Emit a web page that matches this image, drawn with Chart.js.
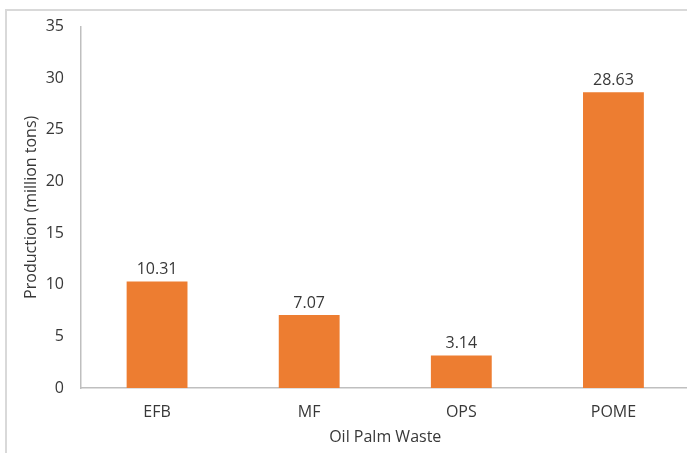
<!DOCTYPE html>
<html>
<head>
<meta charset="utf-8">
<script src="https://cdn.jsdelivr.net/npm/chart.js@4/dist/chart.umd.min.js"></script>
<style>
  html, body { margin: 0; padding: 0; background: #fff; overflow: hidden; }
  #wrap { position: relative; width: 687px; height: 453px; overflow: hidden; }
  #frame { position: absolute; left: 5px; top: 9px; width: 720px; height: 480px; border: 2px solid #d9d9d9; box-sizing: border-box; }
  #box { position: absolute; left: 0; top: 0; width: 700px; height: 453px; }
</style>
</head>
<body>
<div id="wrap">
  <div id="frame"></div>
  <div id="box"><canvas id="chart"></canvas></div>
</div>
<script>
// Data
const categories = ['EFB', 'MF', 'OPS', 'POME'];
const production = [10.31, 7.07, 3.14, 28.63];
const valueLabels = ['10.31', '7.07', '3.14', '28.63'];

const textColor = '#383838';
const axisColor = '#bfbfbf';
const fontFamily = '"Open Sans", "Noto Sans", sans-serif';

// draws the value above each bar
const barLabels = {
    id: 'barLabels',
    afterDatasetsDraw(chart) {
        const ctx = chart.ctx;
        const meta = chart.getDatasetMeta(0);
        ctx.save();
        ctx.font = '16px ' + fontFamily;
        ctx.fillStyle = textColor;
        ctx.textAlign = 'center';
        ctx.textBaseline = 'bottom';
        meta.data.forEach((bar, i) => {
            ctx.fillText(valueLabels[i], bar.x, bar.y - 4);
        });
        ctx.restore();
    }
};

const ctx = document.getElementById('chart').getContext('2d');
const chart = new Chart(ctx, {
    type: 'bar',
    data: {
        labels: categories,
        datasets: [{
            data: production,
            backgroundColor: '#ed7d31',
            borderWidth: 0,
            categoryPercentage: 1,
            barPercentage: 0.4
        }]
    },
    options: {
        responsive: true,
        maintainAspectRatio: false,
        animation: false,
        layout: { padding: { left: 0, top: 26.5, right: 10.5, bottom: 0 } },
        plugins: {
            legend: { display: false },
            tooltip: { enabled: false }
        },
        scales: {
            x: {
                grid: { display: false, drawTicks: false },
                border: { display: true, color: axisColor, width: 1.5 },
                ticks: { color: textColor, padding: 15, font: { family: fontFamily, size: 16 } },
                title: {
                    display: true, text: 'Oil Palm Waste', color: textColor,
                    font: { family: fontFamily, size: 16 },
                    padding: { top: 0, bottom: 6 }
                },
                afterFit(scale) { scale.height = 65; }
            },
            y: {
                min: 0, max: 35,
                grid: { display: false, drawTicks: false },
                border: { display: true, color: axisColor, width: 1.5 },
                ticks: { stepSize: 5, color: textColor, padding: 17, font: { family: fontFamily, size: 16 } },
                title: {
                    display: true, text: 'Production (million tons)', color: textColor,
                    font: { family: fontFamily, size: 16 },
                    padding: { top: 22, bottom: 0 }
                },
                afterFit(scale) { scale.width = 81; }
            }
        }
    },
    plugins: [barLabels]
});
</script>
</body>
</html>
